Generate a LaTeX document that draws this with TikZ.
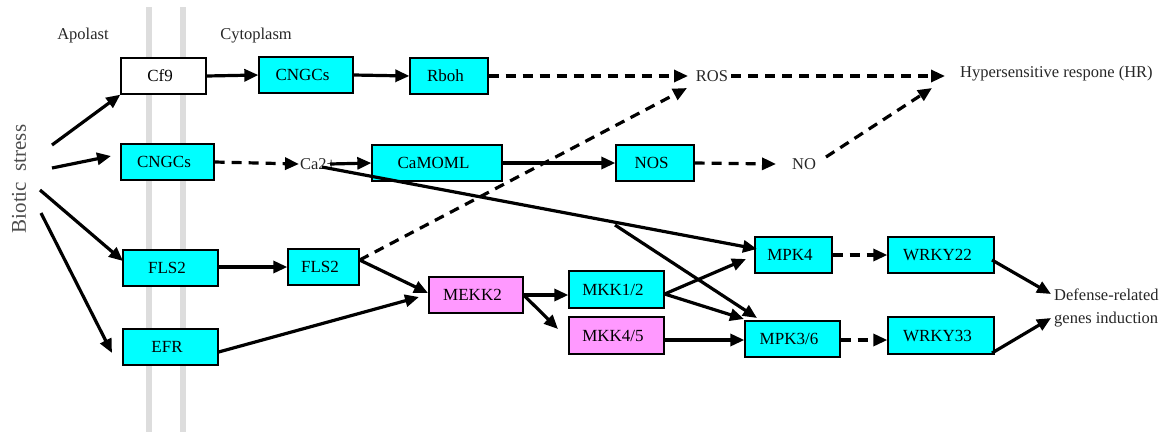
\documentclass[tikz,border=0pt]{standalone}
\usepackage{fontspec}
\setmainfont{Liberation Serif}
\usetikzlibrary{arrows.meta}
\definecolor{cyanbox}{HTML}{00FFFF}
\definecolor{pinkbox}{HTML}{FF99FF}
\definecolor{membrane}{HTML}{DDDDDD}
\tikzset{
  box/.style={draw=black, line width=1.3pt, inner sep=0pt, fill=cyanbox,
    font=\fontsize{17}{19}\selectfont, execute at end node={\hspace{7pt}}},
  pinkb/.style={box, fill=pinkbox},
  whiteb/.style={box, fill=white},
  lbl/.style={inner sep=0pt, font=\fontsize{16.5}{19}\selectfont, text=black!85},
  arr/.style={line width=3.2pt, -{Triangle[length=14pt,width=12pt]}},
  darr/.style={arr, dash pattern=on 10pt off 7pt},
  wall/.style={membrane, line width=6pt},
}
% place a box by its corner coordinates
\newcommand{\boxat}[7]{%
  \node[#1, minimum width={(#5-#3)*1pt}, minimum height={(#6-#4)*1pt}]
    (#2) at ({(#3+#5)/2}, {(#4+#6)/2}) {#7};}
\begin{document}
\begin{tikzpicture}[x=1pt, y=-1pt]
\useasboundingbox (0,0) rectangle (1167,432);

% cell membrane
\draw[wall] (149,7) -- (149,432);
\draw[wall] (183,7) -- (183,432);

% compartment labels
\node[lbl] (apo) at (83,36) {Apolast};
\node[lbl] (cyto) at (256,36) {Cytoplasm};
\node[inner sep=0pt, rotate=90, text=black!70, font=\fontsize{21}{24}\selectfont]
  (bs) at (19,179) {Biotic\ \ stress};

% proteins
\boxat{whiteb}{cf}{121}{58}{206}{94}{Cf9}
\boxat{box}{cngA}{259}{57}{353}{93}{CNGCs}
\boxat{box}{rboh}{410}{58}{488}{94}{Rboh}
\boxat{box}{cngB}{121}{144}{214}{180}{CNGCs}
\boxat{box}{camo}{372}{145}{502}{181}{CaMOML}
\boxat{box}{nos}{616}{145}{694}{181}{NOS}
\boxat{box}{flsA}{123}{250}{218}{286}{FLS2}
\boxat{box}{flsB}{288}{249}{359}{285}{FLS2}
\boxat{box}{efr}{123}{329}{218}{365}{EFR}
\boxat{pinkb}{mekk}{429}{277}{523}{313}{MEKK2}
\boxat{box}{mkka}{569}{271}{664}{308}{MKK1/2}
\boxat{pinkb}{mkkb}{569}{317}{664}{354}{MKK4/5}
\boxat{box}{mpka}{755}{237}{832}{273}{MPK4}
\boxat{box}{mpkb}{745}{321}{840}{357}{MPK3/6}
\boxat{box}{wka}{888}{237}{994}{273}{WRKY22}
\boxat{box}{wkb}{888}{317}{994}{354}{WRKY33}

% small molecules and responses
\node[lbl] (ros) at (712,76) {ROS};
\node[lbl, anchor=west] (hr) at (960,74) {Hypersensitive respone (HR)};
\node[lbl] (ca) at (318,164) {Ca2+};
\node[lbl] (no) at (804,164) {NO};
\node[lbl, anchor=west, align=left, font=\fontsize{16.5}{23}\selectfont]
  (def) at (1054,308) {Defense-related\\genes induction};

% connector end points
\coordinate (b1) at (52,145);
\coordinate (b2) at (52,168);
\coordinate (b3) at (40,190);
\coordinate (b4) at (41,213);
\coordinate (tB) at (111,156);
\coordinate (tF) at (123,261);
\coordinate (tE) at (112,353);
\coordinate (rosW) at (688,76);
\coordinate (rosE) at (731,76);
\coordinate (rosS) at (687,88);
\coordinate (hrW) at (945,76);
\coordinate (hrS) at (932,88);
\coordinate (caW) at (299,164);
\coordinate (caE) at (330,164);
\coordinate (caS) at (322,167);
\coordinate (noW) at (776,164);
\coordinate (noE) at (826,157);
\coordinate (br) at (615,225);
\coordinate (mpkaT) at (757,249);
\coordinate (mpkbT) at (757,318);
\coordinate (mpkaL) at (746,259);
\coordinate (mpkbL) at (744,319);
\coordinate (mkkbT) at (558,329);
\coordinate (mekkF) at (428,293);
\coordinate (mekkE) at (419,297);
\coordinate (wkaS) at (992,260);
\coordinate (wkbS) at (992,353);
\coordinate (defA) at (1051,294);
\coordinate (defB) at (1051,318);

% biotic stress to receptors
\draw[arr] (b1) -- (cf.south west);
\draw[arr] (b2) -- (tB);
\draw[arr] (b3) -- (tF);
\draw[arr] (b4) -- (tE);

% top row
\draw[arr] (cf.east) -- (cngA.west);
\draw[arr] (cngA.east) -- (rboh.west);
\draw[darr] (rboh.east) -- (rosW);
\draw[darr] (rosE) -- (hrW);

% calcium / NO row
\draw[darr] (cngB.east) -- (caW);
\draw[arr] (caE) -- (camo.west);
\draw[arr] (camo.east) -- (nos.west);
\draw[darr] (nos.east) -- (noW);
\draw[darr] (noE) -- (hrS);

% flagellin / EFR branch
\draw[arr] (flsA.east |- 0,267) -- (flsB.west |- 0,267);
\draw[darr] (flsB.east |- 0,260) -- (rosS);
\draw[arr] (flsB.east |- 0,260) -- (mekkF);
\draw[arr] (efr.east |- 0,352) -- (mekkE);

% MAPK cascade
\draw[arr] (caS) -- (mpkaT);
\draw[arr] (br) -- (mpkbT);
\draw[arr] (mekk.east) -- (mkka.west |- mekk.east);
\draw[arr] (mekk.east) -- (mkkbT);
\draw[arr] (mkka.east |- 0,294) -- (mpkaL);
\draw[arr] (mkka.east |- 0,294) -- (mpkbL);
\draw[arr] (mkkb.east |- 0,340) -- (mpkb.west |- 0,340);
\draw[darr] (mpka.east) -- (wka.west);
\draw[darr] (mpkb.east |- 0,340) -- (wkb.west |- 0,340);
\draw[arr] (wkaS) -- (defA);
\draw[arr] (wkbS) -- (defB);
\end{tikzpicture}
\end{document}
